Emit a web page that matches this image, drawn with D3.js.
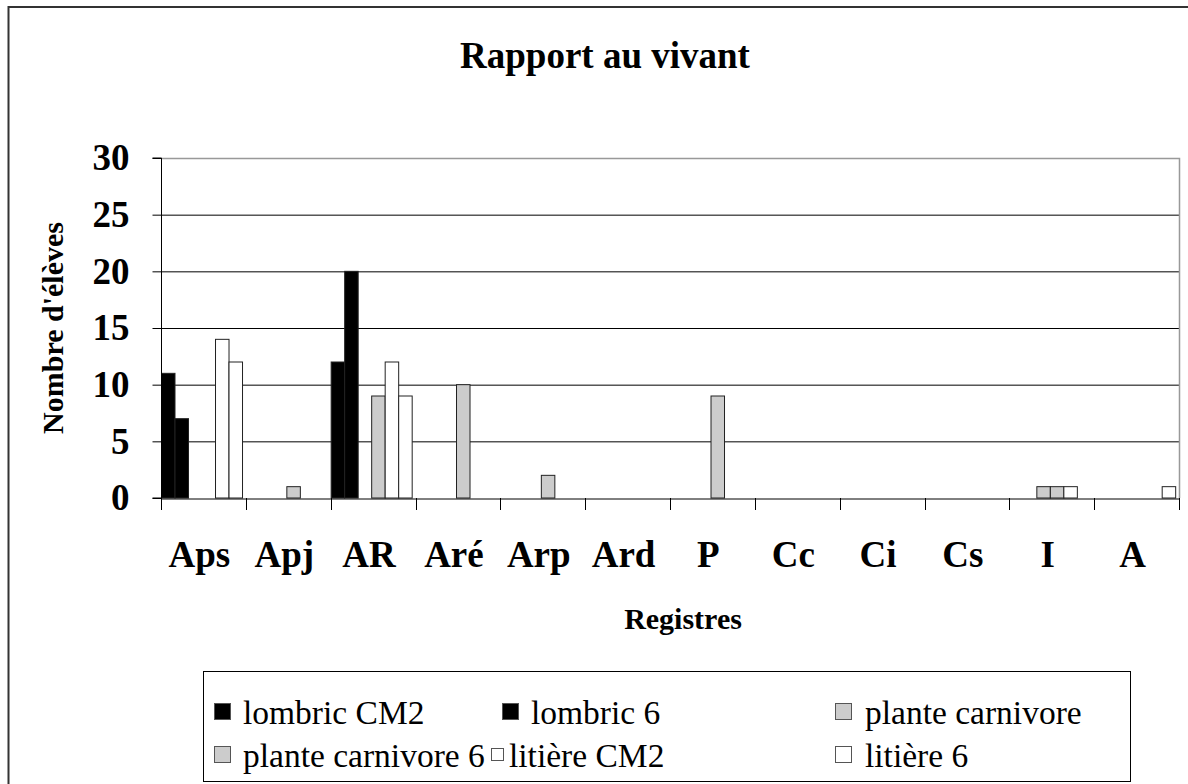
<!DOCTYPE html>
<html>
<head>
<meta charset="utf-8">
<script src="https://cdn.jsdelivr.net/npm/d3@7"></script>
<style>
	body { margin: 0; background: #fff; }
	text { font-family: "Liberation Serif", "Times New Roman", serif; }
</style>
</head>
<body>
<div id="chart"></div>
<script>
const categories = ["Aps", "Apj", "AR", "Aré", "Arp", "Ard", "P", "Cc", "Ci", "Cs", "I", "A"];
const seriesNames = ["lombric CM2", "lombric 6", "plante carnivore", "plante carnivore 6", "litière CM2", "litière 6"];
const lombricCM2 = [11, 0, 12, 0, 0, 0, 0, 0, 0, 0, 0, 0];
const lombric6 = [7, 0, 20, 0, 0, 0, 0, 0, 0, 0, 0, 0];
const planteCarnivore = [0, 0, 0, 0, 0, 0, 0, 0, 0, 0, 1, 0];
const planteCarnivore6 = [0, 1, 9, 10, 2, 0, 9, 0, 0, 0, 1, 0];
const litiereCM2 = [14, 0, 12, 0, 0, 0, 0, 0, 0, 0, 1, 0];
const litiere6 = [12, 0, 9, 0, 0, 0, 0, 0, 0, 0, 0, 1];
const yTicks = [0, 5, 10, 15, 20, 25, 30];

const seriesValues = [lombricCM2, lombric6, planteCarnivore, planteCarnivore6, litiereCM2, litiere6];
const fills = ["#000000", "#000000", "#cccccc", "#cccccc", "#ffffff", "#ffffff"];

const width = 1188;
const height = 784;
const plot = {left: 161, right: 1179, top: 158, bottom: 498};

const svg = d3.select("#chart")
	.append("svg")
	.attr("width", width)
	.attr("height", height);

svg.append("rect")
	.attr("width", width)
	.attr("height", height)
	.attr("fill", "#fff");

// outer chart border (runs off the right and bottom edge)
svg.append("rect")
	.attr("x", 8.5)
	.attr("y", 7)
	.attr("width", 1300)
	.attr("height", 900)
	.attr("fill", "none")
	.attr("stroke", "#333")
	.attr("stroke-width", 2);

const x0 = d3.scaleBand()
	.domain(categories)
	.range([plot.left, plot.right]);

const x1 = d3.scaleBand()
	.domain(seriesNames)
	.range([0, x0.bandwidth() * 0.955]);

const y = d3.scaleLinear()
	.domain([0, 30])
	.range([plot.bottom, plot.top]);

// gridlines
svg.append("g")
	.selectAll("line")
	.data(yTicks.filter(d => d > 0 && d < 30))
	.enter()
	.append("line")
	.attr("x1", plot.left)
	.attr("x2", plot.right)
	.attr("y1", d => y(d) + 0.5)
	.attr("y2", d => y(d) + 0.5)
	.attr("stroke", "#000")
	.attr("stroke-width", 1);

// plot area border top/right (grey)
svg.append("path")
	.attr("d", `M${plot.left},${y(30) + 0.5}H${plot.right + 0.5}V${plot.bottom}`)
	.attr("fill", "none")
	.attr("stroke", "#999")
	.attr("stroke-width", 1.5);

// bars
const rows = categories.map((c, i) => ({cat: c, values: seriesNames.map((s, j) => ({series: s, idx: j, value: seriesValues[j][i]}))}));

svg.append("g")
	.selectAll("g")
	.data(rows)
	.enter()
	.append("g")
	.attr("transform", d => `translate(${x0(d.cat) + 0.5},0)`)
	.selectAll("rect")
	.data(d => d.values.filter(v => v.value > 0))
	.enter()
	.append("rect")
	.attr("x", d => x1(d.series))
	.attr("y", d => y(d.value))
	.attr("width", x1.bandwidth())
	.attr("height", d => y(0) - y(d.value))
	.attr("fill", d => fills[d.idx])
	.attr("stroke", "#222")
	.attr("stroke-width", 1);

// y axis
const yAxis = d3.axisLeft(y)
	.tickValues(yTicks)
	.tickSize(9)
	.tickPadding(23);

svg.append("g")
	.attr("transform", `translate(${plot.left + 0.5},0)`)
	.call(yAxis)
	.call(g => g.select(".domain").attr("stroke", "#000").attr("d", `M-9,${plot.top}H0V${plot.bottom}H-9`))
	.call(g => g.selectAll(".tick line").attr("stroke", "#000"))
	.call(g => g.selectAll(".tick text")
		.attr("fill", "#000")
		.style("font-family", "'Liberation Serif', serif")
		.style("font-size", "37px")
		.style("font-weight", "bold"));

// x axis: ticks at category boundaries
const xAxis = d3.axisBottom(x0)
	.tickSize(0)
	.tickPadding(42);

svg.append("g")
	.attr("transform", `translate(0,${plot.bottom + 0.5})`)
	.call(xAxis)
	.call(g => g.select(".domain").attr("stroke", "#000"))
	.call(g => g.selectAll(".tick text")
		.attr("fill", "#000")
		.attr("dx", -4)
		.style("font-family", "'Liberation Serif', serif")
		.style("font-size", "37px")
		.style("font-weight", "bold"));

svg.append("g")
	.selectAll("line")
	.data(categories.map(c => x0(c)).concat([plot.right]))
	.enter()
	.append("line")
	.attr("x1", d => Math.round(d) + 0.5)
	.attr("x2", d => Math.round(d) + 0.5)
	.attr("y1", plot.bottom)
	.attr("y2", plot.bottom + 12)
	.attr("stroke", "#000");

// titles
svg.append("text")
	.attr("x", 605)
	.attr("y", 68)
	.attr("text-anchor", "middle")
	.style("font-size", "37px")
	.style("font-weight", "bold")
	.text("Rapport au vivant");

svg.append("text")
	.attr("transform", "translate(63,328) rotate(-90)")
	.attr("text-anchor", "middle")
	.style("font-size", "30px")
	.style("font-weight", "bold")
	.text("Nombre d'élèves");

svg.append("text")
	.attr("x", 683)
	.attr("y", 629)
	.attr("text-anchor", "middle")
	.style("font-size", "30px")
	.style("font-weight", "bold")
	.text("Registres");

// legend
const legendPos = [
	{sx: 214, tx: 243, y: 724},
	{sx: 502, tx: 531, y: 724},
	{sx: 835, tx: 865, y: 724},
	{sx: 214, tx: 243, y: 767},
	{sx: 491, tx: 509, y: 767},
	{sx: 835, tx: 865, y: 767}
];

svg.append("rect")
	.attr("x", 203.5)
	.attr("y", 671.5)
	.attr("width", 927)
	.attr("height", 110)
	.attr("fill", "#fff")
	.attr("stroke", "#000");

const legend = svg.append("g")
	.selectAll("g")
	.data(seriesNames)
	.enter()
	.append("g");

legend.append("rect")
	.attr("x", (d, i) => legendPos[i].sx + 0.5)
	.attr("y", (d, i) => legendPos[i].y - (i === 4 ? 18.5 : 20.5))
	.attr("width", (d, i) => i === 4 ? 12 : 16)
	.attr("height", (d, i) => i === 4 ? 12 : 16)
	.attr("fill", (d, i) => fills[i])
	.attr("stroke", "#555");

legend.append("text")
	.attr("x", (d, i) => legendPos[i].tx)
	.attr("y", (d, i) => legendPos[i].y)
	.style("font-size", "33.5px")
	.text(d => d);
</script>
</body>
</html>
